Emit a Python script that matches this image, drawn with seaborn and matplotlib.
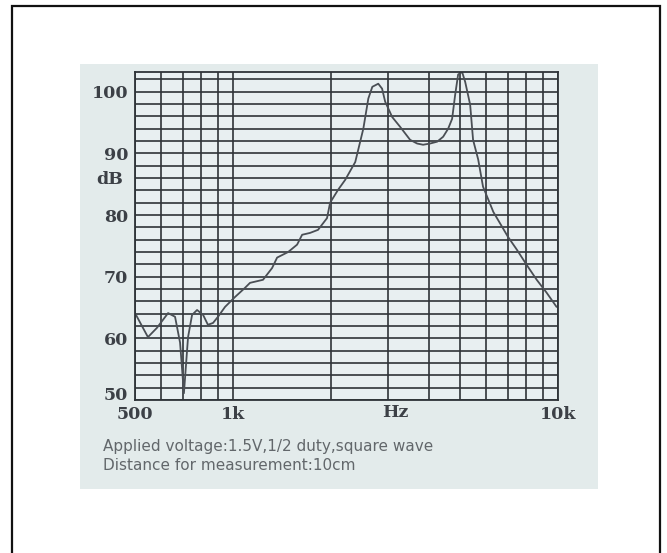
import matplotlib
matplotlib.use("Agg")
import matplotlib.pyplot as plt
from matplotlib.patches import Rectangle
import matplotlib.transforms as mtransforms
import seaborn as sns
import pandas as pd
import numpy as np

# ---- data ----
freq_hz = [500, 548, 584, 632, 664, 688, 707, 728, 749, 776, 810, 838, 869, 900, 946,
           1015, 1090, 1129, 1238, 1320, 1368, 1479, 1576, 1633, 1727, 1828, 1948, 1991,
           2107, 2215, 2379, 2519, 2610, 2685, 2800, 2877, 2940, 3090, 3270, 3508, 3687,
           3846, 4043, 4250, 4434, 4593, 4724, 4827, 4930, 5071, 5182, 5368, 5480, 5683,
           5880, 6105, 6326, 6626, 7010, 7468, 8014, 8600, 9227, 9900]
spl_db = [64.1, 60.2, 61.7, 64.1, 63.5, 59.3, 51.1, 60.2, 63.8, 64.6, 63.8, 62.2, 62.5, 63.5, 65.1,
          66.7, 68.2, 69.0, 69.5, 71.4, 73.1, 74.0, 75.2, 76.8, 77.1, 77.6, 79.5, 82.0,
          84.1, 85.7, 88.6, 94.0, 98.9, 100.8, 101.3, 100.5, 98.4, 95.9, 94.3, 92.2, 91.6,
          91.4, 91.6, 91.9, 92.7, 94.0, 95.6, 99.5, 102.8, 103.2, 101.6, 97.9, 92.2, 89.0,
          84.6, 82.5, 80.5, 78.7, 76.5, 74.4, 71.9, 69.5, 67.4, 65.1]

x_grid = [500, 600, 700, 800, 900, 1000, 2000, 3000, 4000, 5000, 6000, 7000, 8000, 9000, 10000]
x_ticks = [500, 1000, 10000]
x_labels = ["500", "1k", "10k"]
y_ticks = [50, 60, 70, 80, 90, 100]
y_labels = ["50", "60", "70", "80", "90", "100"]
y_grid = list(range(50, 104, 2))
caption = ["Applied voltage:1.5V,1/2 duty,square wave", "Distance for measurement:10cm"]

W, H = 667, 553
fig = plt.figure(figsize=(W / 100, H / 100), dpi=100)
fig.patch.set_facecolor("white")

def box(x0, y0, x1, y1):
    return [x0 / W, 1 - y1 / H, (x1 - x0) / W, (y1 - y0) / H]

# outer border
fig.patches.append(Rectangle((12 / W, -0.01), (660 - 12) / W, 1.01 - 6 / H,
                             transform=fig.transFigure, fill=False,
                             edgecolor="#111111", linewidth=1.6))

# photo background
bg = fig.add_axes(box(80, 64, 598, 489))
bg.set_facecolor("#e3ebeb")
bg.set_xticks([]); bg.set_yticks([])
for s in bg.spines.values():
    s.set_visible(False)

sns.set_style("white")
ax = fig.add_axes(box(135, 72, 558, 400))
ax.set_facecolor("#e8eff1")
df = pd.DataFrame({"f": freq_hz, "db": spl_db})
sns.lineplot(data=df, x="f", y="db", ax=ax, color="#4a4f55", linewidth=1.3, sort=False)
ax.set_xscale("log")
ax.set_xlim(500, 10000)
ax.set_ylim(50, 103.2)

ax.set_xticks(x_grid, minor=True)
ax.set_xticks(x_ticks)
ax.set_xticklabels(x_labels)
ax.set_yticks(y_grid, minor=True)
ax.set_yticks(y_ticks)
ax.set_yticklabels(y_labels)
ax.grid(which="both", color="#2e3338", linewidth=1.2)
ax.tick_params(which="both", length=0)
ax.tick_params(axis="y", pad=5)
ax.tick_params(axis="x", pad=4)

lab_font = dict(fontfamily="DejaVu Serif", fontweight="bold", fontsize=12.5, color="#3c4046")
for lab in ax.get_xticklabels() + ax.get_yticklabels():
    lab.set_fontfamily(lab_font["fontfamily"])
    lab.set_fontweight(lab_font["fontweight"])
    lab.set_fontsize(lab_font["fontsize"])
    lab.set_color(lab_font["color"])
# lift the "50" label a little, as in the reference
ylabs = ax.get_yticklabels()
ylabs[0].set_transform(ylabs[0].get_transform() +
                       mtransforms.ScaledTranslation(0, 6 / 100, fig.dpi_scale_trans))
for s in ax.spines.values():
    s.set_color("#2e3338"); s.set_linewidth(1.3)
ax.set_xlabel(""); ax.set_ylabel("")

ax.text(3150, 50, "Hz", ha="center", va="top", transform=ax.transData, clip_on=False,
        **lab_font).set_transform(ax.transData + mtransforms.ScaledTranslation(0, -4 / 100, fig.dpi_scale_trans))
fig.text(110 / W, 1 - 180 / H, "dB", ha="center", va="center", **lab_font)

fig.text(103 / W, 1 - 446 / H, caption[0], ha="left", va="center",
         fontfamily="DejaVu Sans", fontsize=11, color="#62676b")
fig.text(103 / W, 1 - 465 / H, caption[1], ha="left", va="center",
         fontfamily="DejaVu Sans", fontsize=11, color="#62676b")

fig.savefig("out.png", dpi=100)
